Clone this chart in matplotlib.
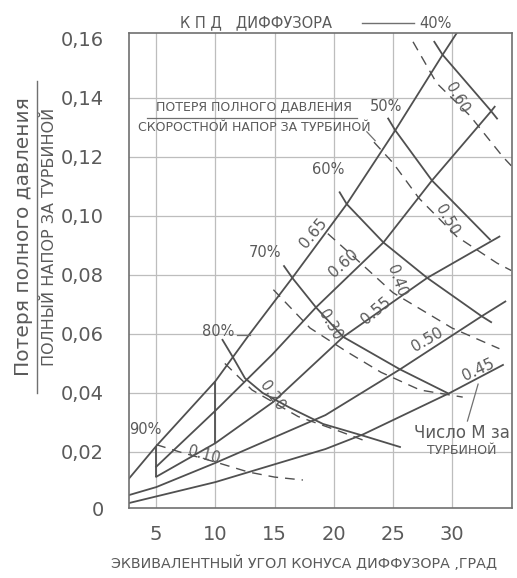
import numpy as np
import matplotlib.pyplot as plt

plt.rcParams['font.family'] = ['DejaVu Sans']

INK = "#505050"
GRID = "#bdbdbd"
TXT = "#5a5a5a"

# rising solid lines: Mach number behind the turbine
mach_labels = ["0.65", "0.60", "0.55", "0.50", "0.45"]
mach_x = [
    [2.7, 5, 10, 12.9, 16.5, 21.1, 25.2, 29.2, 30.4],
    [5, 10, 14.8, 18.5, 24.2, 28.3, 33.2, 33.6],
    [5, 10, 14.9, 20.8, 27.9, 34],
    [2.7, 5, 10, 19.3, 25.6, 32.5, 34.5],
    [2.7, 10, 19.3, 22.5, 29.8, 34.3],
]
mach_y = [
    [0.011, 0.022, 0.044, 0.060, 0.079, 0.104, 0.129, 0.1546, 0.162],
    [0.015, 0.034, 0.053, 0.069, 0.091, 0.112, 0.135, 0.137],
    [0.0116, 0.023, 0.037, 0.059, 0.079, 0.093],
    [0.0054, 0.0081, 0.0163, 0.0325, 0.048, 0.066, 0.071],
    [0.0027, 0.0098, 0.021, 0.026, 0.040, 0.0495],
]

# descending solid lines from the efficiency points on the top curve
eff_labels = ["80%", "70%", "60%", "50%", "40%"]
eff_x = [
    [10.6, 11.5, 12.5, 14, 16.3, 19.1, 22.5, 25.6],
    [15.8, 16.5, 18.5, 20.8, 25.6, 29.6],
    [20.5, 21.1, 24.2, 27.9, 32.5, 33.3],
    [24.6, 25.2, 28.3, 33.2],
    [28.5, 29.2, 33.2, 33.8],
]
eff_y = [
    [0.058, 0.052, 0.045, 0.040, 0.035, 0.0295, 0.0255, 0.0217],
    [0.083, 0.079, 0.069, 0.059, 0.048, 0.040],
    [0.108, 0.104, 0.091, 0.079, 0.066, 0.064],
    [0.133, 0.129, 0.112, 0.092],
    [0.159, 0.1546, 0.136, 0.133],
]

# short vertical solid pieces at 5 and 10 degrees
vert_x = [5, 10]
vert_lo = [0.0116, 0.023]
vert_hi = [0.022, 0.044]

# dashed lines: loss / velocity head behind the turbine
zeta_labels = ["0.10", "0.20", "0.30", "0.40", "0.50", "0.60"]
zeta_x = [
    [5, 7, 10, 12.8, 15, 17.4],
    [10.8, 13.1, 17, 20.5, 22.5],
    [14.9, 18, 21.1, 24, 27.3, 30.9],
    [19.5, 22, 25, 30, 34],
    [23.4, 25, 27.2, 30.4, 33.8, 35],
    [26.7, 28.7, 31.5, 34.3, 35],
]
zeta_y = [
    [0.0225, 0.020, 0.0166, 0.0132, 0.0115, 0.0105],
    [0.050, 0.041, 0.032, 0.027, 0.024],
    [0.075, 0.062, 0.054, 0.047, 0.041, 0.0386],
    [0.094, 0.085, 0.074, 0.062, 0.055],
    [0.125, 0.118, 0.106, 0.093, 0.084, 0.0815],
    [0.159, 0.145, 0.134, 0.120, 0.117],
]

fig = plt.figure(figsize=(5.17, 5.78), dpi=100)
ax = fig.add_axes([0.2495, 0.121, 0.7405, 0.822])
ax.set_xlim(2.7, 35.05)
ax.set_ylim(0.001, 0.162)

for v in [5, 10, 15, 20, 25, 30]:
    ax.axvline(v, color=GRID, lw=0.9, zorder=0)
for v in [0.02, 0.04, 0.06, 0.08, 0.10, 0.12, 0.14]:
    ax.axhline(v, color=GRID, lw=0.9, zorder=0)

for xs, ys in zip(mach_x, mach_y):
    ax.plot(xs, ys, color=INK, lw=1.3)
for xs, ys in zip(eff_x, eff_y):
    ax.plot(xs, ys, color=INK, lw=1.3)
ax.vlines(vert_x, vert_lo, vert_hi, color=INK, lw=1.3)
for xs, ys in zip(zeta_x, zeta_y):
    ax.plot(xs, ys, color=INK, lw=1.0, ls=(0, (7, 5)))

ax.set_xticks([5, 10, 15, 20, 25, 30])
ax.set_yticks([0.001, 0.02, 0.04, 0.06, 0.08, 0.10, 0.12, 0.14, 0.16])
ax.set_yticklabels(["0", "0,02", "0,04", "0,06", "0,08", "0,10", "0,12", "0,14", "0,16"])
ax.tick_params(length=0, labelsize=14, colors=TXT)
ax.tick_params(axis="y", pad=18)
ax.tick_params(axis="x", pad=12)
for s in ax.spines.values():
    s.set_color("#707070")
    s.set_linewidth(1.2)

fig.text(0.588, 0.026, "ЭКВИВАЛЕНТНЫЙ УГОЛ КОНУСА ДИФФУЗОРА ,ГРАД", fontsize=10.3,
         color=TXT, ha="center", va="center")

fig.text(0.045, 0.59, "Потеря полного давления", rotation=90, fontsize=14.5,
         color=TXT, ha="center", va="center")
fig.text(0.095, 0.59, "ПОЛНЫЙ НАПОР ЗА ТУРБИНОЙ", rotation=90, fontsize=11.5,
         color=TXT, ha="center", va="center")
fig.add_artist(plt.Line2D([0.072, 0.072], [0.32, 0.86], color="#707070", lw=1))

fig.text(0.495, 0.96, "К П Д   ДИФФУЗОРА", fontsize=10.5, color=TXT,
         ha="center", va="center")
fig.add_artist(plt.Line2D([0.70, 0.80], [0.96, 0.96], color="#707070", lw=1))
fig.text(0.842, 0.96, "40%", fontsize=10.5, color=TXT, ha="center", va="center")

ax.text(13.25, 0.1366, "ПОТЕРЯ ПОЛНОГО ДАВЛЕНИЯ", fontsize=9, color=TXT,
        ha="center", va="center")
ax.plot([4.2, 22.0], [0.1332, 0.1332], color="#707070", lw=0.9)
ax.text(13.3, 0.1298, "СКОРОСТНОЙ НАПОР ЗА ТУРБИНОЙ", fontsize=9,
        color=TXT, ha="center", va="center")
ax.plot([22.8, 23.5], [0.1285, 0.1255], color="#707070", lw=0.9)

for lab, px, py in [("90%", 4.05, 0.0275), ("80%", 10.2, 0.0607), ("70%", 14.2, 0.0875),
                    ("60%", 19.5, 0.1156), ("50%", 24.4, 0.137)]:
    ax.text(px, py, lab, fontsize=10.5, color=TXT, ha="center", va="center")
ax.plot([11.8, 12.9], [0.0597, 0.0597], color="#707070", lw=0.9)

for lab, px, py, rot in [("0.65", 18.3, 0.094, 50), ("0.60", 20.8, 0.084, 42),
                         ("0.55", 23.6, 0.068, 40), ("0.50", 27.9, 0.058, 30),
                         ("0.45", 32.2, 0.048, 25)]:
    ax.text(px, py, lab, fontsize=11, color=TXT, ha="center", va="center",
            rotation=rot)

for lab, px, py, rot in [("0.10", 9.0, 0.019, -15), ("0.20", 14.8, 0.039, -55),
                         ("0.30", 19.7, 0.063, -60), ("0.40", 25.3, 0.078, -70),
                         ("0.50", 29.6, 0.0986, -60), ("0.60", 30.4, 0.140, -60)]:
    ax.text(px, py, lab, fontsize=10.5, color=TXT, ha="center", va="center",
            rotation=rot)

ax.text(30.8, 0.0265, "Число M за", fontsize=12, color=TXT, ha="center", va="center")
ax.text(30.8, 0.0205, "ТУРБИНОЙ", fontsize=9, color=TXT, ha="center", va="center")
ax.plot([31.3, 32.2], [0.0305, 0.043], color="#707070", lw=0.9)

fig.savefig("out.png", dpi=100)
